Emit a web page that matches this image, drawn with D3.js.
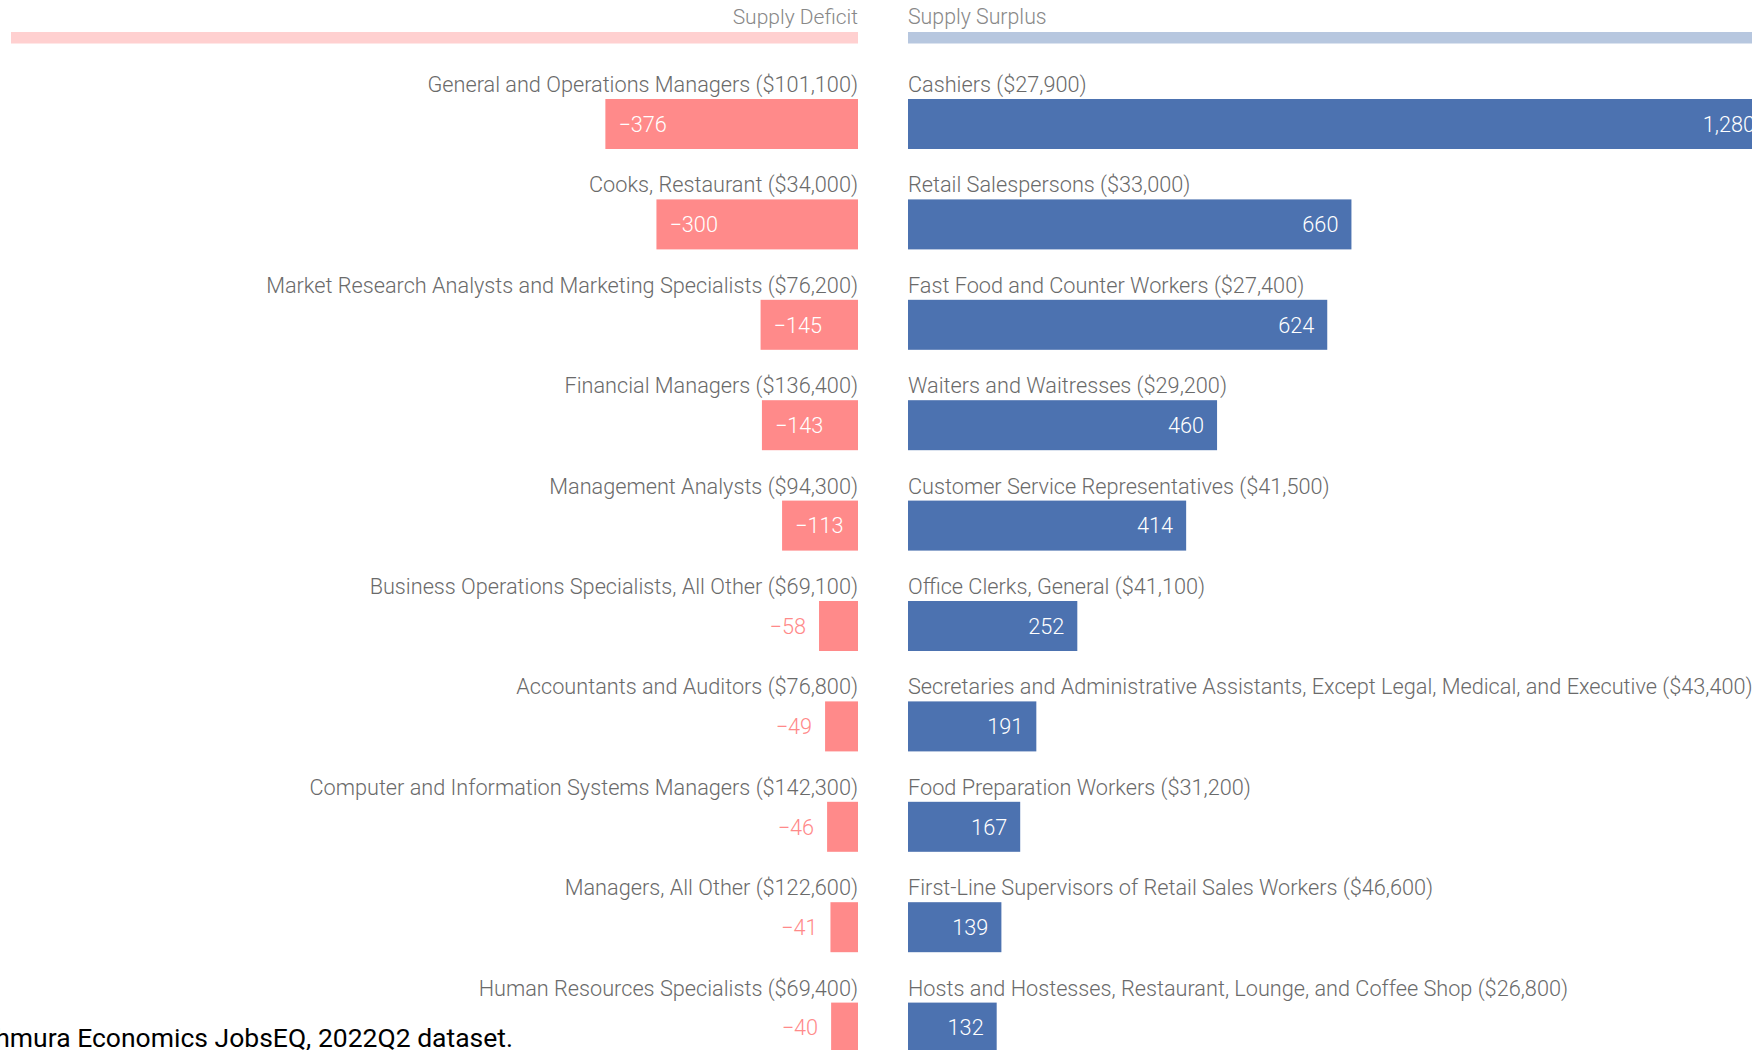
<!DOCTYPE html>
<html>
<head>
<meta charset="utf-8">
<script src="https://cdn.jsdelivr.net/npm/d3@7/dist/d3.min.js"></script>
<style>
  html, body { margin: 0; padding: 0; background: #fff; overflow: hidden; }
  svg { display: block; }
  text { font-family: Roboto, "Noto Sans", sans-serif; }
</style>
</head>
<body>
<svg id="chart" width="1752" height="1050"></svg>
<script>
// Occupations with the largest supply gaps, with median annual wages
const deficitOccupations = [
  "General and Operations Managers",
  "Cooks, Restaurant",
  "Market Research Analysts and Marketing Specialists",
  "Financial Managers",
  "Management Analysts",
  "Business Operations Specialists, All Other",
  "Accountants and Auditors",
  "Computer and Information Systems Managers",
  "Managers, All Other",
  "Human Resources Specialists"
];
const deficitWages = [101100, 34000, 76200, 136400, 94300, 69100, 76800, 142300, 122600, 69400];
const deficitGaps = [-376, -300, -145, -143, -113, -58, -49, -46, -41, -40];

const surplusOccupations = [
  "Cashiers",
  "Retail Salespersons",
  "Fast Food and Counter Workers",
  "Waiters and Waitresses",
  "Customer Service Representatives",
  "Office Clerks, General",
  "Secretaries and Administrative Assistants, Except Legal, Medical, and Executive",
  "Food Preparation Workers",
  "First-Line Supervisors of Retail Sales Workers",
  "Hosts and Hostesses, Restaurant, Lounge, and Coffee Shop"
];
const surplusWages = [27900, 33000, 27400, 29200, 41500, 41100, 43400, 31200, 46600, 26800];
const surplusGaps = [1280, 660, 624, 460, 414, 252, 191, 167, 139, 132];

const panelTitles = ["Supply Deficit", "Supply Surplus"];
const sourceNote = "Source: Chmura Economics JobsEQ, 2022Q2 dataset.";

const deficitColor = "#ff8a8a";
const surplusColor = "#4c72b0";
const labelColor = "#6a6a6a";

const svg = d3.select("#chart");

// Layout
const deficitRight = 858;   // zero line of the deficit panel
const surplusLeft = 908;    // zero line of the surplus panel
const rowTop = 99;
const rowStep = 100.4;
const barH = 50;
const pad = 13;
const labelSize = 21.7;

const x = d3.scaleLinear().domain([0, 1280]).range([0, 860]);
const rows = d3.range(deficitGaps.length);
const y = d3.scaleBand()
  .domain(rows)
  .range([rowTop, rowTop + (rows.length - 1) * rowStep + barH])
  .paddingInner(1 - barH / rowStep)
  .paddingOuter(0);

const fmtNum = d3.format(",");
const fmtWage = w => "($" + fmtNum(w) + ")";

// Panel headers
const headers = svg.append("g");
headers.append("rect")
  .attr("x", 11).attr("y", 32)
  .attr("width", deficitRight - 11).attr("height", 11.5)
  .attr("fill", deficitColor).attr("fill-opacity", 0.4);
headers.append("rect")
  .attr("x", surplusLeft).attr("y", 32)
  .attr("width", 1752 - surplusLeft + 20).attr("height", 11.5)
  .attr("fill", surplusColor).attr("fill-opacity", 0.4);
headers.append("text")
  .attr("x", deficitRight).attr("y", 24)
  .attr("text-anchor", "end")
  .attr("font-size", 21).attr("font-weight", 300)
  .attr("fill", "#888")
  .text(panelTitles[0]);
headers.append("text")
  .attr("x", surplusLeft).attr("y", 24)
  .attr("text-anchor", "start")
  .attr("font-size", 21.3).attr("font-weight", 300)
  .attr("fill", "#888")
  .text(panelTitles[1]);

const defData = rows.map(i => ({ name: deficitOccupations[i], wage: deficitWages[i], gap: deficitGaps[i], i }));
const surData = rows.map(i => ({ name: surplusOccupations[i], wage: surplusWages[i], gap: surplusGaps[i], i }));

// Deficit rows: bars grow leftwards from the centre
const defG = svg.append("g").selectAll("g").data(defData).join("g");
defG.append("text")
  .attr("x", deficitRight)
  .attr("y", d => y(d.i) - 7)
  .attr("text-anchor", "end")
  .attr("font-size", labelSize).attr("font-weight", 300)
  .attr("fill", labelColor)
  .text(d => d.name + " " + fmtWage(d.wage));
defG.append("rect")
  .attr("x", d => deficitRight - x(-d.gap))
  .attr("y", d => y(d.i))
  .attr("width", d => x(-d.gap))
  .attr("height", y.bandwidth())
  .attr("fill", deficitColor);
defG.append("text")
  .attr("y", d => y(d.i) + y.bandwidth() / 2)
  .attr("dy", "0.36em")
  .attr("font-size", labelSize).attr("font-weight", 300)
  .text(d => fmtNum(d.gap))
  .each(function(d) {
    const t = d3.select(this);
    const w = this.getComputedTextLength();
    const bw = x(-d.gap);
    if (bw >= w + 2 * pad) {
      t.attr("x", deficitRight - bw + pad).attr("text-anchor", "start").attr("fill", "#fff");
    } else {
      t.attr("x", deficitRight - bw - pad).attr("text-anchor", "end").attr("fill", deficitColor);
    }
  });

// Surplus rows: bars grow rightwards from the centre
const surG = svg.append("g").selectAll("g").data(surData).join("g");
surG.append("text")
  .attr("x", surplusLeft)
  .attr("y", d => y(d.i) - 7)
  .attr("text-anchor", "start")
  .attr("font-size", labelSize).attr("font-weight", 300)
  .attr("fill", labelColor)
  .text(d => d.name + " " + fmtWage(d.wage));
surG.append("rect")
  .attr("x", surplusLeft)
  .attr("y", d => y(d.i))
  .attr("width", d => x(d.gap))
  .attr("height", y.bandwidth())
  .attr("fill", surplusColor);
surG.append("text")
  .attr("y", d => y(d.i) + y.bandwidth() / 2)
  .attr("dy", "0.36em")
  .attr("font-size", labelSize).attr("font-weight", 300)
  .text(d => fmtNum(d.gap))
  .each(function(d) {
    const t = d3.select(this);
    const w = this.getComputedTextLength();
    const bw = x(d.gap);
    if (bw >= w + 2 * pad) {
      t.attr("x", surplusLeft + bw - pad).attr("text-anchor", "end").attr("fill", "#fff");
    } else {
      t.attr("x", surplusLeft + bw + pad).attr("text-anchor", "start").attr("fill", surplusColor);
    }
  });

// Source note
svg.append("text")
  .attr("x", 513).attr("y", 1047)
  .attr("text-anchor", "end")
  .attr("font-family", "'Liberation Sans', Arial, sans-serif")
  .attr("font-size", 26.5)
  .attr("fill", "#000")
  .text(sourceNote);
</script>
</body>
</html>
